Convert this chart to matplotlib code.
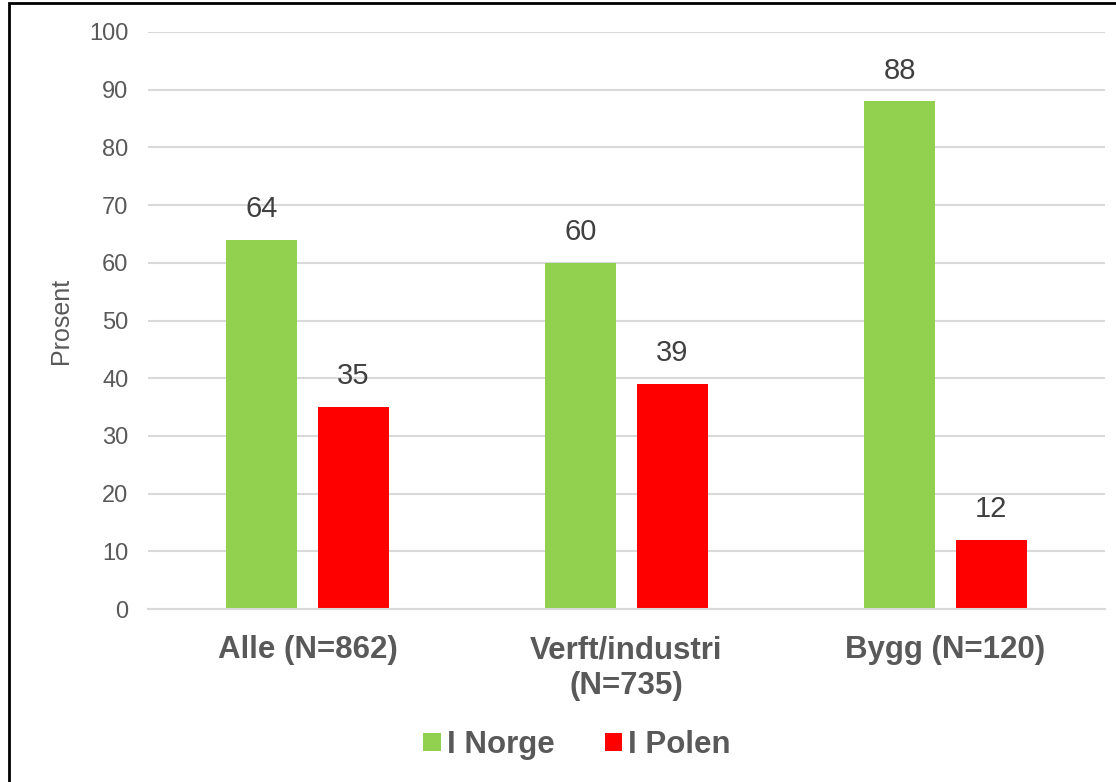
import matplotlib.pyplot as plt
import numpy as np
from matplotlib.patches import Rectangle

categories = ["Alle (N=862)", "Verft/industri\n(N=735)", "Bygg (N=120)"]
norge = [64, 60, 88]
polen = [35, 39, 12]
series_names = ["I Norge", "I Polen"]
yticks = [0, 10, 20, 30, 40, 50, 60, 70, 80, 90, 100]

green = "#92d050"
red = "#ff0000"
grey = "#595959"

plt.rcParams["font.family"] = ["Liberation Sans", "DejaVu Sans"]

fig = plt.figure(figsize=(11.16, 7.82), dpi=100)
ax = fig.add_axes([148 / 1116, 173 / 782, (1105 - 148) / 1116, (609 - 32) / 782])

x = np.arange(len(categories))
w = 0.223
off = 0.143
b1 = ax.bar(x - off, norge, w, color=green, label=series_names[0], zorder=2)
b2 = ax.bar(x + off, polen, w, color=red, label=series_names[1], zorder=2)

# value labels above bars
for bars in (b1, b2):
    for rect in bars:
        ax.annotate(f"{rect.get_height():g}",
                    (rect.get_x() + rect.get_width() / 2, rect.get_height()),
                    xytext=(0, 12), textcoords="offset points",
                    ha="center", va="bottom", fontsize=21, color="#404040")

ax.set_xlim(-0.5, 2.5)
ax.set_ylim(0, 100)
ax.set_yticks(yticks)
ax.yaxis.grid(True, color="#d9d9d9", linewidth=1.5, zorder=0)
ax.set_axisbelow(True)
for s in ["top", "right", "left"]:
    ax.spines[s].set_visible(False)
ax.spines["bottom"].set_color("#d9d9d9")
ax.spines["bottom"].set_linewidth(1.5)
ax.tick_params(axis="y", length=0, labelsize=17, labelcolor=grey, pad=14)
ax.tick_params(axis="x", length=0, pad=19)
ax.set_xticks(x)
ax.set_xticklabels(categories, fontsize=22.5, fontweight="bold", color=grey,
                   linespacing=1.25)
ax.set_ylabel("Prosent", fontsize=18, color=grey)
ax.yaxis.set_label_coords(-0.078, 0.5)

fig.legend(handles=[b1, b2], labels=series_names, loc="center",
           bbox_to_anchor=(577 / 1116, 37 / 782), ncol=2, frameon=False,
           prop={"size": 22.5, "weight": "bold"}, labelcolor=grey,
           handlelength=0.55, handleheight=0.55, handletextpad=0.2,
           columnspacing=1.6)

# outer frame
fig.patches.append(Rectangle((9 / 1116, -0.01), 1.02, 1.006,
                             transform=fig.transFigure, fill=False,
                             edgecolor="black", linewidth=2))

fig.savefig("out.png", dpi=100)
